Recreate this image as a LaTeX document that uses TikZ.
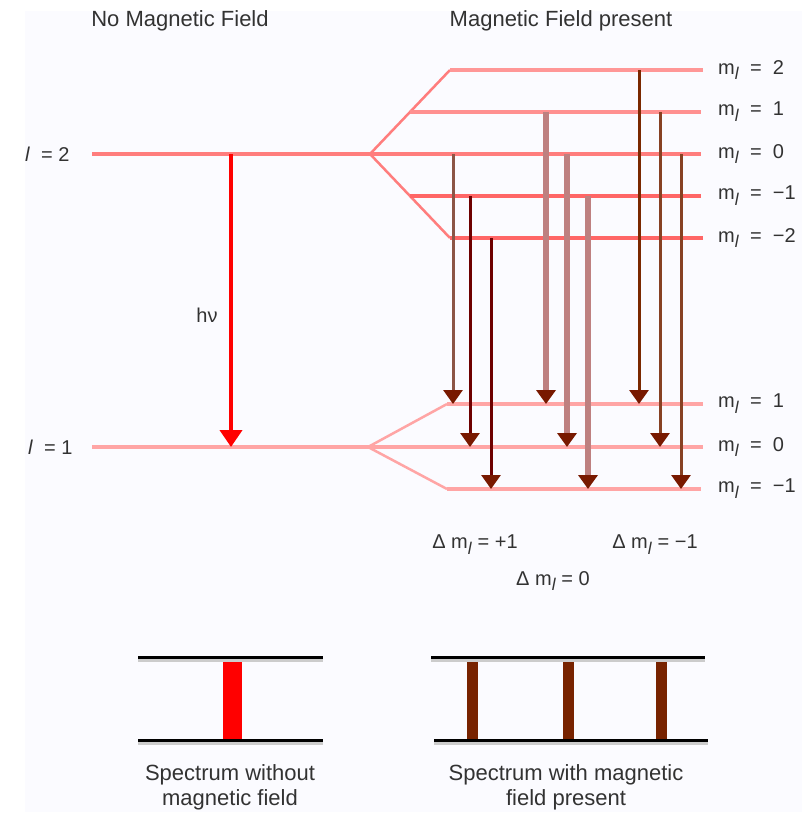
\documentclass[tikz,border=0pt]{standalone}
\usepackage{fontspec}
\setmainfont{Liberation Sans}
\usetikzlibrary{arrows.meta,positioning}
\definecolor{bgtint}{RGB}{251,251,255}
\definecolor{lvlred}{RGB}{255,125,125}
\definecolor{lvlpale}{RGB}{255,165,165}
\definecolor{headbrown}{RGB}{120,25,0}
\definecolor{brownA}{RGB}{140,85,70}
\definecolor{darkred}{RGB}{110,0,0}
\definecolor{mauve}{RGB}{190,128,128}
\definecolor{rust}{RGB}{122,40,0}
\definecolor{brownB}{RGB}{135,65,35}
\definecolor{barbrown}{RGB}{120,35,0}
\definecolor{txtgray}{RGB}{50,50,50}
\newcommand{\ml}{m\raisebox{-0.55ex}{\fontsize{17}{17}\selectfont\textit{l}}}

\begin{document}
\begin{tikzpicture}[x=1pt,y=-1pt,
  lvl/.style={line width=4pt,draw=lvlred},
  lowlvl/.style={line width=4pt,draw=lvlpale},
  split/.style={line width=2.5pt,draw=lvlred},
  lbl/.style={font=\fontsize{20}{24}\selectfont,text=txtgray,inner sep=0pt,anchor=west},
  ttl/.style={font=\fontsize{22}{25}\selectfont,text=txtgray,inner sep=0pt,align=center},
  trans/.style={-{Triangle[width=19pt,length=14pt,color=headbrown]}},
  specline/.style={line width=3pt,draw=black}]

\useasboundingbox (0,0) rectangle (809,816);
\fill[white] (0,0) rectangle (809,816);
\fill[bgtint] (25,11) rectangle (802,812);

% titles
\node[ttl] (nofield) at (180,21) {No Magnetic Field};
\node[ttl] (withfield) at (561,21) {Magnetic Field present};

% levels without field
\coordinate (twoL) at (92,154);  \coordinate (twoS) at (370,154);
\coordinate (oneL) at (92,447);  \coordinate (oneS) at (368,447);
\node[lbl] (ltwo) at (25,154) {\textit{l}\ \ =\ 2};
\node[lbl] (lone) at (28,447) {\textit{l}\ \ =\ 1};

% upper sublevels
\coordinate (u2a) at (450,70);   \coordinate (u2b) at (703,70);
\coordinate (u1a) at (410,112);  \coordinate (u1b) at (701,112);
\coordinate (u0b) at (701,154);
\coordinate (um1a) at (410,196); \coordinate (um1b) at (701,196);
\coordinate (um2a) at (450,238); \coordinate (um2b) at (703,238);
% lower sublevels
\coordinate (d1a) at (447,404);  \coordinate (d1b) at (703,404);
\coordinate (d0b) at (703,447);
\coordinate (dm1a) at (447,489); \coordinate (dm1b) at (701,489);

\draw[split] (twoS) -- (u2a);
\draw[split] (twoS) -- (um2a);
\draw[split,draw=lvlpale] (oneS) -- (d1a);
\draw[split,draw=lvlpale] (oneS) -- (dm1a);
\draw[lvl] (twoL) -- (u0b);
\draw[lvl,draw=lvlred!80] (u2a) -- (u2b);
\draw[lvl,draw=lvlred!85] (u1a) -- (u1b);
\draw[lvl,draw=red!60] (um1a) -- (um1b);
\draw[lvl,draw=red!60] (um2a) -- (um2b);
\draw[lowlvl] (oneL) -- (d0b);
\draw[lowlvl] (d1a) -- (d1b);
\draw[lowlvl] (dm1a) -- (dm1b);

\node[lbl] (mu2) at (718,70) {\ml\ \ =\ \ 2};
\node[lbl] (mu1) at (718,112) {\ml\ \ =\ \ 1};
\node[lbl] (mu0) at (718,154) {\ml\ \ =\ \ 0};
\node[lbl] (mum1) at (718,196) {\ml\ \ =\ \ −1};
\node[lbl] (mum2) at (718,238) {\ml\ \ =\ \ −2};
\node[lbl] (md1) at (718,404) {\ml\ \ =\ \ 1};
\node[lbl] (md0) at (718,447) {\ml\ \ =\ \ 0};
\node[lbl] (mdm1) at (718,489) {\ml\ \ =\ \ −1};

% transition without field
\draw[-{Triangle[width=22pt,length=17pt]},line width=4pt,draw=red] (231,0 |- twoS) -- (231,0 |- oneS);
\node[lbl,anchor=center] (hnu) at (207,315) {hν};

% transitions with field
\foreach \x/\up/\dn/\col/\w in {453/u0b/d1b/brownA/3,470/um1b/d0b/darkred/3,491/um2b/dm1b/darkred/3,
  546/u1b/d1b/mauve/6,567/u0b/d0b/mauve/6,588/um1b/dm1b/mauve/6,
  639/u2b/d1b/rust/3,660/u1b/d0b/brownB/3,681/u0b/dm1b/brownB/3}
  \draw[trans,draw=\col,line width=\w pt] (\x,0 |- \up) -- (\x,0 |- \dn);

\node[lbl,anchor=center] (dplus) at (475,545) {Δ \ml\ = +1};
\node[lbl,anchor=center] (dminus) at (655,545) {Δ \ml\ = −1};
\node[lbl,anchor=center] (dzero) at (553,581) {Δ \ml\ = 0};

% spectra
\fill[red] (223,657) rectangle (242,740);
\foreach \x in {467,563,656}
  \fill[barbrown] (\x,657) rectangle (\x+11,740);
\draw[specline,draw=black!20] (138,660) -- (323,660);
\draw[specline,draw=black!20] (138,743) -- (323,743);
\draw[specline,draw=black!20] (431,660) -- (705,660);
\draw[specline,draw=black!20] (434,743) -- (708,743);
\draw[specline] (138,657) -- (323,657);
\draw[specline] (138,740) -- (323,740);
\draw[specline] (431,657) -- (705,657);
\draw[specline] (434,740) -- (708,740);

\node[ttl] (capno) at (230,787) {Spectrum without\\magnetic field};
\node[ttl] (capwith) at (566,787) {Spectrum with magnetic\\field present};
\end{tikzpicture}
\end{document}
